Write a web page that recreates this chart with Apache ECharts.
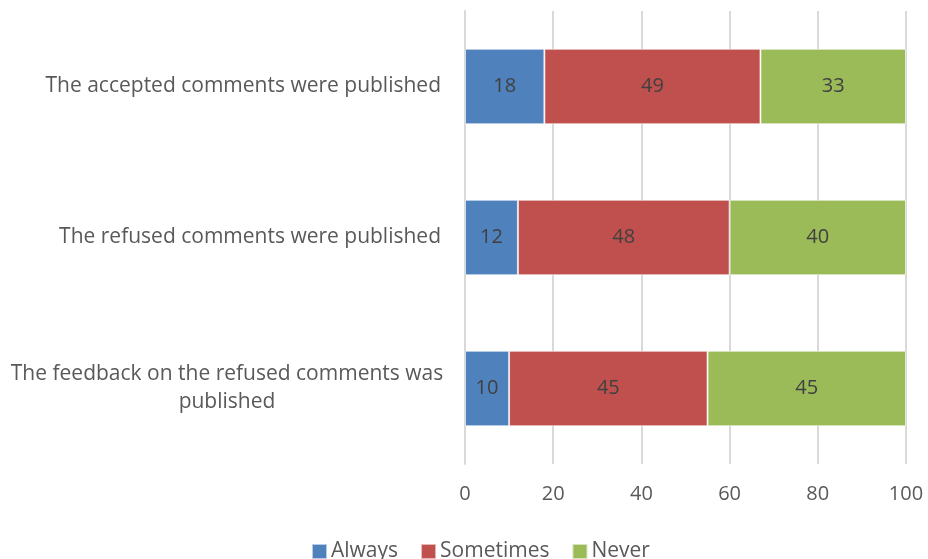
<!DOCTYPE html>
<html>
<head>
<meta charset="utf-8">
<script src="https://cdn.jsdelivr.net/npm/echarts@6/dist/echarts.min.js"></script>
<style>
  html, body { margin: 0; padding: 0; background: #fff; }
  #chart { width: 928px; height: 559px; }
</style>
</head>
<body>
<div id="chart"></div>
<script>
// Survey answers, percent of respondents
var categories = [
  'The feedback on the refused comments was published',
  'The refused comments were published',
  'The accepted comments were published'
];
var always = [10, 12, 18];
var sometimes = [45, 48, 49];
var never = [45, 40, 33];
var xTicks = [0, 20, 40, 60, 80, 100];

var FONT = '"Open Sans", "DejaVu Sans", sans-serif';
var FS = 21;
var LABEL_W = 440;

function wrapLabel(name) {
  // Long names wrap onto two centred lines, short ones sit right-aligned
  if (name.length > 40) {
    var cut = name.lastIndexOf(' ', 40);
    return '{c|' + name.slice(0, cut) + '}\n{c|' + name.slice(cut + 1) + '}';
  }
  return '{r|' + name + '}';
}

var chart = echarts.init(document.getElementById('chart'));

function barSeries(name, data, color) {
  return {
    name: name,
    type: 'bar',
    stack: 'total',
    data: data,
    barCategoryGap: '50%',
    itemStyle: { color: color, borderColor: 'rgba(255,255,255,0.6)', borderWidth: 1 },
    label: {
      show: true,
      position: 'inside',
      color: '#404040',
      fontFamily: FONT,
      fontSize: 20
    },
    emphasis: { disabled: true }
  };
}

chart.setOption({
  animation: false,
  textStyle: { fontFamily: FONT },
  grid: { left: 465, right: 22, top: 11, bottom: 95 },
  legend: {
    top: 536,
    left: 306,
    itemWidth: 15,
    itemHeight: 15,
    itemGap: 22,
    icon: 'rect',
    textStyle: { color: '#595959', fontSize: FS, fontFamily: FONT, padding: [0, 0, 0, -1] },
    data: ['Always', 'Sometimes', 'Never']
  },
  xAxis: {
    type: 'value',
    min: xTicks[0],
    max: xTicks[xTicks.length - 1],
    interval: xTicks[1] - xTicks[0],
    axisLine: { show: false },
    axisTick: { show: false },
    axisLabel: { color: '#595959', fontSize: 20, fontFamily: FONT, margin: 20 },
    splitLine: { lineStyle: { color: '#d9d9d9', width: 2 } }
  },
  yAxis: {
    type: 'category',
    data: categories,
    axisLine: { show: true, lineStyle: { color: '#d9d9d9', width: 2 } },
    axisTick: { show: false },
    axisLabel: {
      margin: 18,
      formatter: wrapLabel,
      rich: {
        c: { width: LABEL_W, align: 'center', color: '#595959', fontSize: FS, fontFamily: FONT, lineHeight: 28 },
        r: { width: LABEL_W, align: 'right', color: '#595959', fontSize: FS, fontFamily: FONT, padding: [0, 6, 0, 0] }
      }
    }
  },
  series: [
    barSeries('Always', always, '#4F81BD'),
    barSeries('Sometimes', sometimes, '#C0504D'),
    barSeries('Never', never, '#9BBB59')
  ]
});
</script>
</body>
</html>
